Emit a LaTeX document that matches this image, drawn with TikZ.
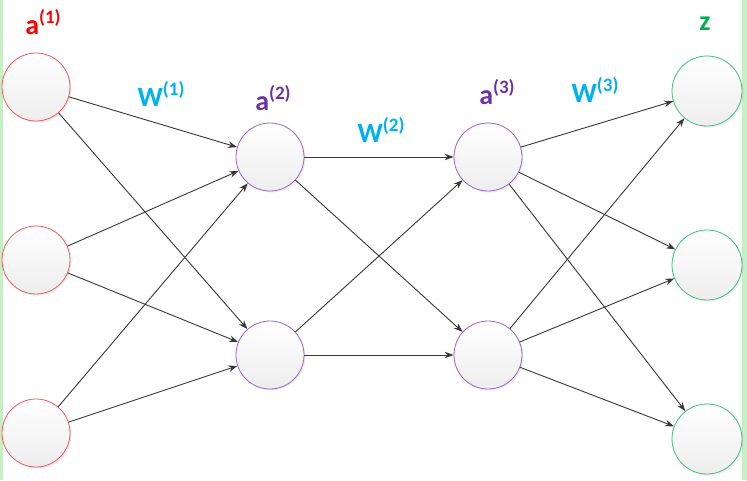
\documentclass[tikz,border=0pt]{standalone}
\usepackage{fontspec}
\setmainfont{Carlito}
\usetikzlibrary{arrows.meta,shadows}
\definecolor{lred}{HTML}{FF0000}
\definecolor{lcyan}{HTML}{00B0F0}
\definecolor{lpurple}{HTML}{7030A0}
\definecolor{lgreen}{HTML}{00B050}
\definecolor{cred}{HTML}{F05A5A}
\definecolor{cpurple}{HTML}{9966CC}
\definecolor{cgreen}{HTML}{40C080}
\definecolor{edgec}{HTML}{383838}
\definecolor{strip}{HTML}{C6EFC6}
\newcommand{\supl}[1]{\raisebox{0.42em}{\fontsize{19}{20}\selectfont\bfseries(#1)}}
\tikzset{
  neuron/.style={circle, minimum size=68pt, inner sep=0pt, line width=0.8pt,
    top color=white, bottom color=gray!14, drop shadow={opacity=0.15, shadow xshift=1.5pt, shadow yshift=-1.5pt}},
  l1/.style={neuron, draw=cred},
  l2/.style={neuron, draw=cpurple},
  l4/.style={neuron, draw=cgreen, minimum size=70pt},
  edge/.style={draw=edgec, line width=0.9pt, -{Stealth[length=9pt,width=6.5pt]}},
  lab/.style={font=\fontsize{28}{30}\selectfont\bfseries, inner sep=0pt},
}
\begin{document}
\begin{tikzpicture}[x=1pt,y=-1pt]
\useasboundingbox (0,0) rectangle (747,480);
\fill[white] (0,0) rectangle (747,480);
\fill[strip] (0,0) rectangle (2.5,480);
\fill[strip] (742,0) rectangle (747,480);
% layer 1
\node[l1] (a1) at (36,87) {};
\node[l1] (a2) at (36,260) {};
\node[l1] (a3) at (36,433) {};
% layer 2
\node[l2] (b1) at (270,157) {};
\node[l2] (b2) at (270,355) {};
% layer 3
\node[l2] (c1) at (488,157) {};
\node[l2] (c2) at (488,355) {};
% layer 4
\node[l4] (d1) at (707,91) {};
\node[l4] (d2) at (707,265) {};
\node[l4] (d3) at (707,439) {};
% edges
\foreach \s in {a1,a2,a3}{\foreach \t in {b1,b2}{\path[edge] (\s) -- (\t);}}
\foreach \s in {b1,b2}{\foreach \t in {c1,c2}{\path[edge] (\s) -- (\t);}}
\foreach \s in {c1,c2}{\foreach \t in {d1,d2,d3}{\path[edge] (\s) -- (\t);}}
% labels
\node[lab, text=lred] (la1) at (43,22) {a\supl{1}};
\node[lab, text=lcyan] (lw1) at (161,94) {W\supl{1}};
\node[lab, text=lpurple] (la2) at (273,98) {a\supl{2}};
\node[lab, text=lcyan] (lw2) at (381,130) {W\supl{2}};
\node[lab, text=lpurple] (la3) at (497,92) {a\supl{3}};
\node[lab, text=lcyan] (lw3) at (595,90) {W\supl{3}};
\node[lab, text=lgreen] (lz) at (705,24) {z};
\end{tikzpicture}
\end{document}
